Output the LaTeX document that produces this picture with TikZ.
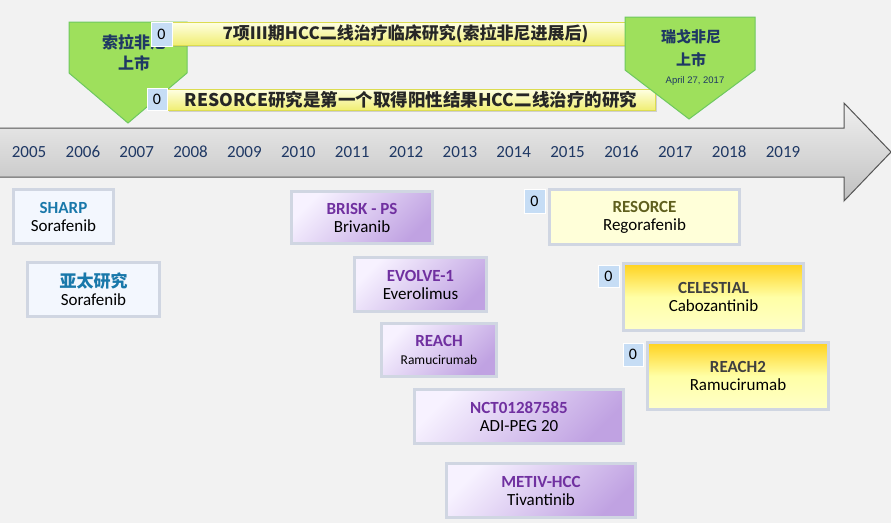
\documentclass[tikz,border=0pt]{standalone}
\usepackage{fontspec}
\setmainfont{Carlito}
\newfontfamily\cjkfont{Noto Sans CJK SC}
\newfontfamily\datefont{Liberation Sans}
\usetikzlibrary{positioning, shadows}
\definecolor{pagebg}{RGB}{242, 242, 242}
\definecolor{arrowlight}{RGB}{240, 240, 240}
\definecolor{arrowdark}{RGB}{192, 192, 192}
\definecolor{arrowline}{RGB}{85, 85, 85}
\definecolor{yearblue}{RGB}{31, 56, 100}
\definecolor{launchgreen}{RGB}{158, 224, 92}
\definecolor{launchline}{RGB}{110, 200, 95}
\definecolor{bannerlight}{RGB}{255, 255, 228}
\definecolor{bannerdark}{RGB}{240, 238, 115}
\definecolor{bannerline}{RGB}{220, 220, 80}
\definecolor{bannertext}{RGB}{38, 38, 38}
\definecolor{badgeblue}{RGB}{198, 221, 245}
\definecolor{boxline}{RGB}{208, 214, 226}
\definecolor{paleblue}{RGB}{243, 247, 254}
\definecolor{sharpblue}{RGB}{25, 120, 170}
\definecolor{lilaclight}{RGB}{247, 242, 255}
\definecolor{lilacdark}{RGB}{192, 162, 226}
\definecolor{trialpurple}{RGB}{112, 48, 160}
\definecolor{paleyellow}{RGB}{255, 255, 217}
\definecolor{olivetext}{RGB}{95, 95, 30}
\definecolor{goldtop}{RGB}{255, 210, 30}
\definecolor{goldbottom}{RGB}{255, 255, 200}
\definecolor{darktext}{RGB}{64, 64, 64}

\begin{document}
\begin{tikzpicture}[
    x=1pt, y=-1pt,
    year/.style={font=\fontsize{17}{17}\selectfont, text=yearblue},
    launch/.style={draw=launchline, fill=launchgreen, line width=1pt},
    launchtext/.style={align=center, text=yearblue, font=\cjkfont\fontsize{15}{22}\selectfont},
    banner/.style={rectangle, draw=bannerline, line width=0.8pt, top color=bannerlight, bottom color=bannerdark, inner sep=0pt, drop shadow={shadow xshift=1.5pt, shadow yshift=-1.5pt, opacity=0.3}, text=bannertext, font=\cjkfont\bfseries\fontsize{17}{17}\selectfont},
    badge/.style={rectangle, fill=badgeblue, draw=white, line width=1pt, inner sep=0pt, font=\fontsize{16}{16}\selectfont},
    study/.style={rectangle, draw=boxline, line width=3pt, align=center, inner sep=0pt, font=\fontsize{17}{18}\selectfont},
    bluebox/.style={study, fill=paleblue},
    purplebox/.style={study, top color=lilaclight, bottom color=lilacdark, shading angle=45},
    yellowbox/.style={study, fill=paleyellow},
    goldbox/.style={study, top color=goldtop, bottom color=goldbottom, middle color=yellow!35}
]
    % Background
    \useasboundingbox (0, 0) rectangle (891, 523);
    \fill[pagebg] (0, 0) rectangle (891, 523);

    % Timeline arrow
    \draw[arrowline, line width=1pt, top color=arrowlight, bottom color=arrowdark]
        (-5, 128) -- (844, 128) -- (844, 103) -- (891, 152) -- (844, 201) -- (844, 177) -- (-5, 177) -- cycle;

    % Years
    \node[year] (y2005) at (29, 152) {2005};
    \node[year] (y2006) at (82.9, 152) {2006};
    \node[year] (y2007) at (136.7, 152) {2007};
    \node[year] (y2008) at (190.6, 152) {2008};
    \node[year] (y2009) at (244.4, 152) {2009};
    \node[year] (y2010) at (298.3, 152) {2010};
    \node[year] (y2011) at (352.2, 152) {2011};
    \node[year] (y2012) at (406, 152) {2012};
    \node[year] (y2013) at (459.9, 152) {2013};
    \node[year] (y2014) at (513.7, 152) {2014};
    \node[year] (y2015) at (567.6, 152) {2015};
    \node[year] (y2016) at (621.5, 152) {2016};
    \node[year] (y2017) at (675.3, 152) {2017};
    \node[year] (y2018) at (729.2, 152) {2018};
    \node[year] (y2019) at (783, 152) {2019};

    % Sorafenib launch
    \draw[launch] (69, 22) -- (187, 22) -- (187, 73) -- (128, 123) -- (69, 73) -- cycle;
    \node[launchtext, font=\cjkfont\bfseries\fontsize{16}{21}\selectfont] (soralaunch) at (134, 52.5) {索拉非尼\\上市};

    % Banners
    \node[banner, minimum width=453, minimum height=23] (phase3) at (398.5, 33.5) {\hspace*{14pt}7项III期HCC二线治疗临床研究(索拉非尼进展后)};
    \node[banner, minimum width=488, minimum height=21, font=\cjkfont\bfseries\fontsize{17.5}{17.5}\selectfont] (firstpos) at (411, 99.5) {RESORCE研究是第一个取得阳性结果HCC二线治疗的研究};
    \node[badge, minimum width=21, minimum height=24] (b1) at (161.5, 34) {0};
    \node[badge, minimum width=20, minimum height=22] (b2) at (157, 99) {0};

    % Regorafenib launch
    \draw[launch] (625, 17) -- (755, 17) -- (755, 70) -- (689, 119) -- (625, 70) -- cycle;
    \node[launchtext, font=\cjkfont\bfseries\fontsize{15}{23}\selectfont] (regolaunch) at (691, 48.5) {瑞戈非尼\\上市};
    \node[text=yearblue, font=\datefont\fontsize{9.5}{10}\selectfont] (regodate) at (695, 81) {April 27, 2017};

    % Sorafenib trials
    \node[bluebox, minimum width=100, minimum height=54] (sharp) at (63.5, 216.5) {\textcolor{sharpblue}{\bfseries SHARP}\\Sorafenib};
    \node[bluebox, minimum width=132, minimum height=54] (asiapac) at (93.5, 289.5) {\textcolor{sharpblue}{\cjkfont\bfseries 亚太研究}\\Sorafenib};

    % Failed second-line trials
    \node[purplebox, minimum width=141, minimum height=52] (brisk) at (362, 217.5) {\textcolor{trialpurple}{\bfseries BRISK - PS}\\Brivanib};
    \node[purplebox, minimum width=132, minimum height=54] (evolve) at (420.5, 284.5) {\textcolor{trialpurple}{\bfseries EVOLVE-1}\\Everolimus};
    \node[purplebox, minimum width=115, minimum height=53] (reach) at (439, 350) {\textcolor{trialpurple}{\bfseries REACH}\\{\fontsize{13.5}{15}\selectfont Ramucirumab}};
    \node[purplebox, minimum width=209, minimum height=54] (adipeg) at (519, 416.5) {\textcolor{trialpurple}{\bfseries NCT01287585}\\ADI-PEG 20};
    \node[purplebox, minimum width=189, minimum height=54] (metiv) at (541, 490.5) {\textcolor{trialpurple}{\bfseries METIV-HCC}\\Tivantinib};

    % Positive second-line trials
    \node[yellowbox, minimum width=190, minimum height=55] (resorce) at (644.5, 217) {\textcolor{olivetext}{\bfseries RESORCE}\\Regorafenib};
    \node[goldbox, minimum width=180, minimum height=67] (celestial) at (713.5, 297) {\textcolor{darktext}{\bfseries CELESTIAL}\\Cabozantinib};
    \node[goldbox, minimum width=181, minimum height=67] (reach2) at (738, 376) {\textcolor{darktext}{\bfseries REACH2}\\Ramucirumab};
    \node[badge, minimum width=21, minimum height=24] (b3) at (534.5, 201) {0};
    \node[badge, minimum width=21, minimum height=22] (b4) at (608.5, 276) {0};
    \node[badge, minimum width=20, minimum height=23] (b5) at (633, 354.5) {0};

\end{tikzpicture}
\end{document}
